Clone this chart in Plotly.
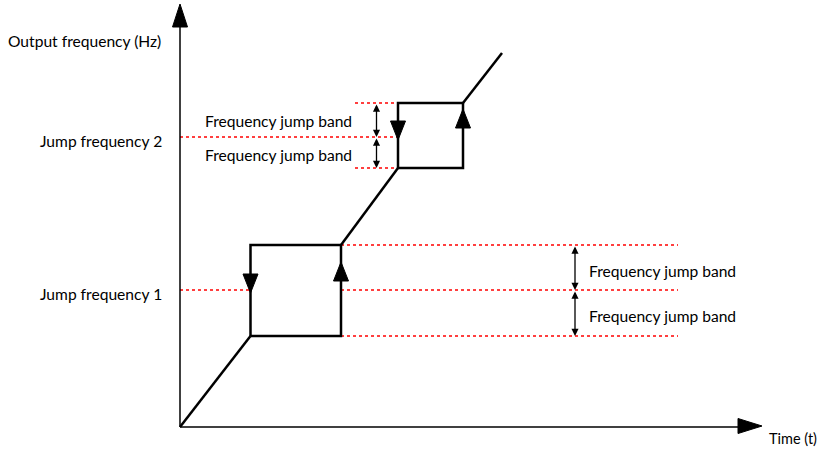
import plotly.graph_objects as go

# Diagram units: t = time, f = output frequency (origin at the axes crossing)
origin = (0, 0)
ramp_end = (322, 374)

# jump bands: jump frequency, band lower/upper edges, t where the band is entered / left
jump_freqs = [137, 290]
band_low = [91, 259]
band_high = [182, 324]
band_t_start = [70.5, 218]
band_t_end = [161, 283]

axis_t_max = 582
axis_f_max = 423

# red reference lines: ((t from, t to), f)
ref_lines_1 = [((161, 498), 182), ((0, 70.5), 137), ((161, 498), 137), ((161, 498), 91)]
ref_lines_2 = [((175, 218), 324), ((0, 218), 290), ((175, 218), 259)]

y_labels = ["Jump frequency 1", "Jump frequency 2"]
x_title = "Time (t)"
y_title = "Output frequency (Hz)"
band_text = "Frequency jump band"

FONT = "Lato"
fig = go.Figure()


def add_line(ts, fs, color="black", width=2.5, dash=None):
    fig.add_trace(go.Scatter(x=ts, y=fs, mode="lines", hoverinfo="skip",
                             line=dict(color=color, width=width, dash=dash)))


def add_tri(tip_t, tip_f, direction, length, half_w):
    # filled arrow head pointing 'up', 'down' or 'right'
    if direction == "up":
        ts = [tip_t, tip_t - half_w, tip_t + half_w, tip_t]
        fs = [tip_f, tip_f - length, tip_f - length, tip_f]
    elif direction == "down":
        ts = [tip_t, tip_t - half_w, tip_t + half_w, tip_t]
        fs = [tip_f, tip_f + length, tip_f + length, tip_f]
    else:
        ts = [tip_t, tip_t - length, tip_t - length, tip_t]
        fs = [tip_f, tip_f + half_w, tip_f - half_w, tip_f]
    fig.add_trace(go.Scatter(x=ts, y=fs, mode="lines", fill="toself", fillcolor="black",
                             line=dict(color="black", width=1), hoverinfo="skip"))


# red dashed reference lines
for (t0, t1), f in ref_lines_1 + ref_lines_2:
    add_line([t0, t1], [f, f], color="#ff0000", width=1.3, dash="3px,3px")

# axes
add_line([0, 0], [0, axis_f_max - 20], width=1.5)
add_line([0, axis_t_max - 20], [0, 0], width=1.5)
add_tri(0, axis_f_max, "up", 23, 7.5)
add_tri(axis_t_max, 1, "right", 24, 7.5)

# output frequency curve
add_line([origin[0], band_t_start[0]], [origin[1], band_low[0]])
add_line([band_t_end[0], band_t_start[1]], [band_high[0], band_low[1]])
add_line([band_t_end[1], ramp_end[0]], [band_high[1], ramp_end[1]])
for i in range(2):
    t0, t1 = band_t_start[i], band_t_end[i]
    lo, hi = band_low[i], band_high[i]
    add_line([t0, t0, t1, t1, t0], [lo, hi, hi, lo, lo])
    add_tri(t0, jump_freqs[i] - 3, "down", 19, 7.5)
    add_tri(t1, jump_freqs[i] + 28, "up", 19, 7.5)

# double arrows marking the bands
band_arrow_t = [395, 196.5]
for i in range(2):
    for a, b in [(band_high[i], jump_freqs[i]), (jump_freqs[i], band_low[i])]:
        fig.add_annotation(x=band_arrow_t[i], y=b, ax=band_arrow_t[i], ay=a, xref="x", yref="y",
                           axref="x", ayref="y", text="", showarrow=True, arrowside="end+start",
                           arrowhead=2, arrowsize=1.1, arrowwidth=1.3, arrowcolor="black")

# text
txt = dict(showarrow=False, font=dict(family=FONT, size=15.6, color="black"), xref="x", yref="y")
fig.add_annotation(x=-174, y=386, text=y_title, xanchor="left", **txt)
for i, lab in enumerate(y_labels):
    fig.add_annotation(x=-16, y=jump_freqs[i] - 4, text=lab, xanchor="right", **txt)
for f in [306, 272]:
    fig.add_annotation(x=23, y=f, text=band_text, xanchor="left", **txt)
for f in [156, 111]:
    fig.add_annotation(x=407, y=f, text=band_text, xanchor="left", **txt)
txt["font"] = dict(family=FONT, size=14.5, color="black")
fig.add_annotation(x=587, y=-11, text=x_title, xanchor="left", **txt)

fig.update_layout(
    width=823, height=450, margin=dict(l=0, r=0, t=0, b=0),
    paper_bgcolor="white", plot_bgcolor="white", showlegend=False,
    xaxis=dict(range=[-180, 643], visible=False, fixedrange=True),
    yaxis=dict(range=[-23, 427], visible=False, fixedrange=True),
)

# drop the browser's default 8px body margin so the figure fills the window exactly
fig.write_html("out.html", config={"displayModeBar": False},
               post_script="document.body.style.margin='0';document.body.style.overflow='hidden';")
